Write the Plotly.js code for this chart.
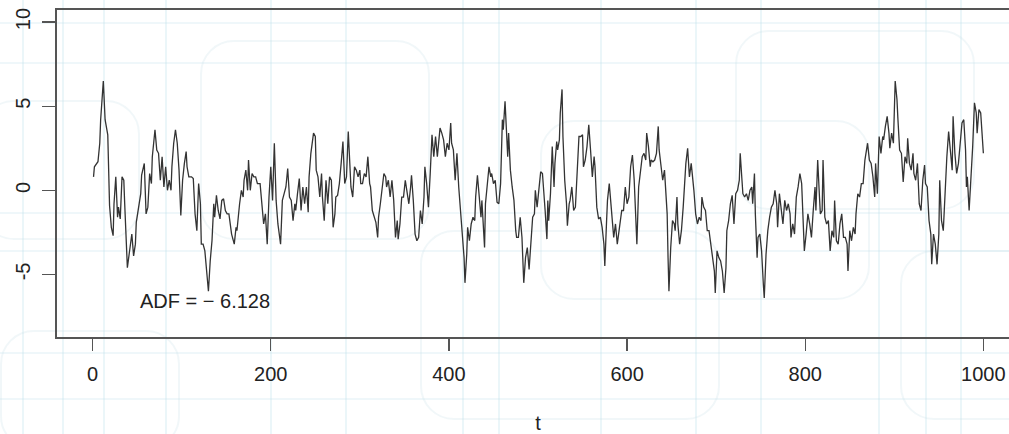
<!DOCTYPE html>
<html>
<head>
<meta charset="utf-8">
<script src="https://cdn.plot.ly/plotly-3.0.1.min.js"></script>
<style>
  html, body { margin: 0; padding: 0; width: 1009px; height: 434px; overflow: hidden; background: #ffffff; }
  #bg { position: absolute; left: 0; top: 0; width: 1009px; height: 434px; overflow: hidden; }
  #bg div { position: absolute; box-sizing: border-box; }
  .v { width: 2px; top: 0; height: 434px; background: rgba(190, 225, 235, 0.30); }
  .h { height: 2px; left: 0; width: 1009px; background: rgba(190, 225, 235, 0.25); }
  .r { border: 2px solid rgba(205, 228, 235, 0.28); border-radius: 34px; }
  #chart { position: absolute; left: 0; top: 0; }
</style>
</head>
<body>
<div id="bg">
  <div class="v" style="left:22px"></div>
  <div class="v" style="left:62px"></div>
  <div class="v" style="left:103px"></div>
  <div class="v" style="left:165px"></div>
  <div class="v" style="left:270px"></div>
  <div class="v" style="left:345px"></div>
  <div class="v" style="left:462px"></div>
  <div class="v" style="left:498px"></div>
  <div class="v" style="left:600px"></div>
  <div class="v" style="left:695px"></div>
  <div class="v" style="left:760px"></div>
  <div class="v" style="left:878px"></div>
  <div class="v" style="left:925px"></div>
  <div class="v" style="left:960px"></div>
  <div class="h" style="top:22px"></div>
  <div class="h" style="top:62px"></div>
  <div class="h" style="top:212px"></div>
  <div class="h" style="top:250px"></div>
  <div class="h" style="top:352px"></div>
  <div class="h" style="top:398px"></div>
  <div class="r" style="left:-20px;top:100px;width:160px;height:140px"></div>
  <div class="r" style="left:200px;top:40px;width:230px;height:200px"></div>
  <div class="r" style="left:420px;top:230px;width:300px;height:190px"></div>
  <div class="r" style="left:735px;top:30px;width:240px;height:180px"></div>
  <div class="r" style="left:540px;top:120px;width:330px;height:180px"></div>
  <div class="r" style="left:900px;top:250px;width:140px;height:170px"></div>
  <div class="r" style="left:0px;top:330px;width:180px;height:120px"></div>
</div>
<div id="chart"></div>
<script>
// time index of each sampled observation
const tIndex = [
  1,2,6,8,9,12,14,16,17,19,21,23,24,26,28,29,31,33,35,36,39,42,44,46,48,49,52,54,55,58,60,62,64,66,67,70,72,74,76,78,80,82,84,86,88,89,91,93,95,97,99,101,103,105,106,108,111,113,115,117,119,121,122,124,126,128,130,132,134,136,137,139,141,143,145,147,149,151,153,
  156,159,161,162,165,167,169,170,172,174,175,177,179,181,183,185,188,191,192,194,196,198,200,202,204,206,208,211,213,215,217,219,221,223,225,227,228,230,232,234,236,238,240,242,243,245,248,250,251,253,255,257,258,260,262,264,266,268,270,272,273,275,277,279,281,283,285,287,289,290,292,294,296,298,300,301,303,305,307,309,311,312,314,316,318,320,
  321,323,325,327,329,330,332,334,336,338,340,342,343,345,347,349,351,353,355,357,358,360,362,364,366,368,370,372,373,375,377,379,381,383,385,387,388,390,392,394,396,398,400,402,403,405,407,409,411,413,415,417,418,420,421,423,425,427,429,430,432,434,436,437,438,440,441,443,445,447,448,450,452,454,456,458,460,461,463,464,466,467,469,471,473,475,476,478,480,482,484,
  486,488,490,492,494,496,497,499,501,503,505,506,508,510,511,512,514,516,518,519,521,522,524,525,527,528,530,532,533,535,536,538,540,542,544,546,548,550,551,553,555,557,559,561,563,564,566,568,570,572,574,575,577,578,580,582,584,585,587,589,591,593,594,596,598,600,602,604,606,608,609,611,613,615,617,619,621,622,624,626,627,629,631,633,635,636,638,640,642,644,645,646,647,
  649,651,653,654,656,657,659,661,663,665,666,668,670,672,674,675,677,679,681,683,684,686,688,690,692,694,696,698,699,701,703,705,707,709,711,712,714,716,718,720,722,724,726,727,729,730,732,734,736,738,740,741,743,744,746,747,749,751,753,754,756,758,760,762,764,766,768,769,771,773,775,777,779,781,783,784,786,788,790,792,794,796,798,799,801,803,805,807,809,811,
  812,814,816,817,819,820,822,824,826,828,830,832,833,835,837,839,841,843,845,847,848,850,852,854,856,857,859,861,863,865,867,869,870,872,874,876,878,879,881,883,885,887,888,890,892,894,895,897,899,901,903,904,906,908,910,912,914,915,917,919,921,922,924,926,928,930,932,934,935,937,939,941,942,944,946,948,950,951,953,955,957,959,961,963,965,966,968,970,972,974,976,978,980,981,982,984,986,988,990,992,993,995,997,998,1000
];
// series value at each time index
const series = [
  0.8,1.4,1.7,2.8,4.2,6.5,4.2,3.5,3.3,-0.9,-2.2,-2.7,-0.8,0.8,-1.6,-1.0,-1.7,0.8,0.6,-0.8,-4.6,-3.4,-2.6,-3.9,-3.2,-1.9,-1.0,-0.2,0.9,1.6,-1.4,-1.0,1.0,0.4,2.0,3.6,2.4,2.2,0.6,2.0,0.2,1.4,0,0.6,0,1.4,2.8,3.6,2.8,1.2,-1.5,0.6,1.6,2.3,1.4,0.8,0.8,0.7,-1.4,-2.4,0.4,-0.8,-3.2,-3.2,-3.6,-4.8,-6.0,-4.2,-3.0,-0.8,-1.6,-0.3,-1.2,-1.7,-0.6,-0.5,-1.2,-1.4,-1.4,
  -2.6,-3.2,-2.2,-2.4,-0.8,0,-0.4,0.6,1.2,0,1.8,0,1.0,0.8,0.8,0.4,0.4,-1.6,-2.0,-1.4,-3.2,-0.4,1.4,-0.6,2.8,-0.6,-2.0,-3.2,-0.6,-0.2,0.2,1.3,-0.4,-0.6,-1.8,-0.8,-1.2,-0.2,0.7,-1.2,0.2,-0.8,0.2,-1.3,0.8,2.2,3.4,3.2,1.2,0.8,-0.4,1.0,-0.4,-1.8,0.6,-0.8,0.8,0.6,-2.2,-1.4,-0.4,-0.3,0.4,1.6,2.9,0.4,0.8,3.5,1.4,0.2,-0.4,1.4,1.2,0.8,1.2,0.4,0.4,1.0,0.8,2.0,0.4,0.2,-1.2,-1.6,-1.9,-2.8,
  -1.6,-0.8,0.2,1.0,0.8,0.2,0.6,-0.4,0.6,-0.6,-2.8,-1.8,-2.9,-2.0,-0.4,-0.4,0.6,-0.2,-0.8,0.2,0.9,-0.6,-2.6,-3.0,-2.8,-1.2,-2.0,-0.4,1.4,0.4,-1.0,1.0,3.3,2.0,3.2,2.0,2.6,3.7,3.4,3.0,2.0,2.8,2.4,4.0,2.8,2.4,0.6,2.2,0.2,-1.2,-2.8,-4.0,-5.5,-3.8,-2.2,-3.0,-2.0,-1.6,-1.8,-0.4,0.9,-0.4,-1.6,-0.6,-1.6,-3.4,-0.8,0.4,1.4,0.8,1.0,0.4,0.6,-0.7,-0.8,0.4,4.2,3.6,5.3,4.2,2.0,3.4,1.2,0.2,-0.6,-2.4,-2.8,-2.8,-1.6,-2.8,-5.5,
  -4.0,-3.4,-4.7,-3.2,-1.6,-1.4,0,-1.0,0,1.1,1.0,0,-1.2,-2.9,-0.6,-1.8,-0.2,2.6,0.2,1.6,2.9,2.4,3.0,4.6,6.0,3.2,0.6,-0.8,-2.1,-0.8,-0.6,0.2,-1.2,-1.0,1.2,3.2,3.2,3.3,1.4,1.8,2.6,3.9,2.4,0.8,2.0,1.4,-1.0,-1.7,-1.6,-2.2,-3.2,-4.5,-1.8,-0.6,0.4,-0.8,-2.2,-2.8,-2.0,-3.2,-2.4,-1.4,-1.2,-1.2,0.2,-0.8,-0.4,1.4,2.1,0.6,-0.8,-3.2,0.2,1.2,2.0,2.2,1.8,3.4,2.6,1.4,1.8,1.7,1.8,2.2,3.8,2.4,1.6,0.6,1.2,-0.8,-1.4,-4.0,-6.0,
  -3.4,-1.8,-2.0,-2.4,-0.4,-2.0,-3.2,-2.4,-1.0,1.2,1.6,2.5,0.8,1.6,0.6,0,-1.4,-2.0,-1.6,-1.8,-0.4,-1.0,-1.2,-2.4,-2.4,-3.2,-4.0,-4.8,-6.1,-3.6,-4.0,-4.2,-4.8,-6.1,-4.6,-2.4,-1.8,-0.8,-0.3,-2.0,-0.2,0,0.6,2.2,0.6,-0.2,-0.4,-0.2,-0.6,0,0.2,-0.8,1.0,-1.4,-4.0,-2.8,-2.6,-3.6,-5.6,-6.4,-3.8,-2.4,-1.6,-1.0,-0.8,0,-0.8,-2.2,-0.2,-1.2,-2.0,-0.6,-1.2,-0.8,-1.4,-2.8,-2.0,-2.6,-0.4,0.2,1.0,0.4,-1.8,-3.6,-2.6,-1.4,-2.0,-2.8,-1.2,0.2,
  -1.2,1.8,-0.4,-1.4,-1.2,1.8,-1.6,-2.0,-1.8,-3.6,-2.4,-2.8,-0.6,-3.0,-3.2,-2.0,-1.4,-2.8,-2.8,-3.2,-4.8,-2.4,-3.0,-2.2,-2.6,-1.4,-0.2,-0.4,0.4,0.4,1.8,2.4,2.8,1.8,1.6,0.8,-0.4,1.6,-0.2,3.2,2.2,3.2,3.0,3.8,4.4,3.4,2.5,3.4,2.8,6.5,5.4,4.3,2.4,2.2,0.5,2.0,1.6,3.1,1.6,1.2,2.2,1.0,0.6,1.6,-0.8,-1.2,0.6,1.5,0.4,0.2,-1.8,-2.6,-4.4,-2.6,-3.2,-4.4,-2.6,0.6,-1.8,-2.4,0.2,2.0,3.5,2.4,1.2,4.4,2.2,1.0,1.6,2.8,4.0,4.2,2.4,0.2,0.8,-1.2,0.4,2.6,5.2,4.6,3.4,4.8,4.6,3.6,2.2
];
const xTicks = [0, 200, 400, 600, 800, 1000];
const yTicks = [-5, 0, 5, 10];
const adfLabel = 'ADF = \u2212 6.128';
const adfPos = { t: 126, value: -6.55 };

const trace = {
  x: tIndex, y: series, type: 'scatter', mode: 'lines',
  line: { color: '#333333', width: 1.3 },
  hoverinfo: 'skip'
};
const font = 'Liberation Sans, Arial, Helvetica, sans-serif';
const layout = {
  width: 1032, height: 434,
  margin: { l: 57, r: 13, t: 10, b: 97 },
  paper_bgcolor: 'rgba(0,0,0,0)', plot_bgcolor: 'rgba(0,0,0,0)',
  showlegend: false,
  font: { family: font, size: 20, color: '#222' },
  xaxis: {
    range: [-40, 1040], tickmode: 'array', tickvals: xTicks, ticktext: xTicks.map(String),
    ticks: 'outside', ticklen: 12, tickwidth: 1.3, tickcolor: '#555',
    showline: true, mirror: true, linecolor: '#555', linewidth: 1.6,
    showgrid: false, zeroline: false, automargin: false,
    tickfont: { family: font, size: 20, color: '#222' },
    ticklabelstandoff: 6,
    title: { text: 't', font: { family: font, size: 20, color: '#222' }, standoff: 34 }
  },
  yaxis: {
    range: [-8.72, 10.72], tickmode: 'array', tickvals: yTicks, ticktext: yTicks.map(String),
    ticks: 'outside', ticklen: 13, tickwidth: 1.3, tickcolor: '#555', tickangle: -90,
    showline: true, mirror: true, linecolor: '#555', linewidth: 1.6,
    showgrid: false, zeroline: false, automargin: false,
    tickfont: { family: font, size: 20, color: '#222' },
    ticklabelstandoff: 4
  },
  annotations: [{
    x: adfPos.t, y: adfPos.value, xref: 'x', yref: 'y', text: adfLabel, showarrow: false,
    font: { family: font, size: 20, color: '#222' }
  }]
};
Plotly.newPlot('chart', [trace], layout, { staticPlot: true, displayModeBar: false });
</script>
</body>
</html>
